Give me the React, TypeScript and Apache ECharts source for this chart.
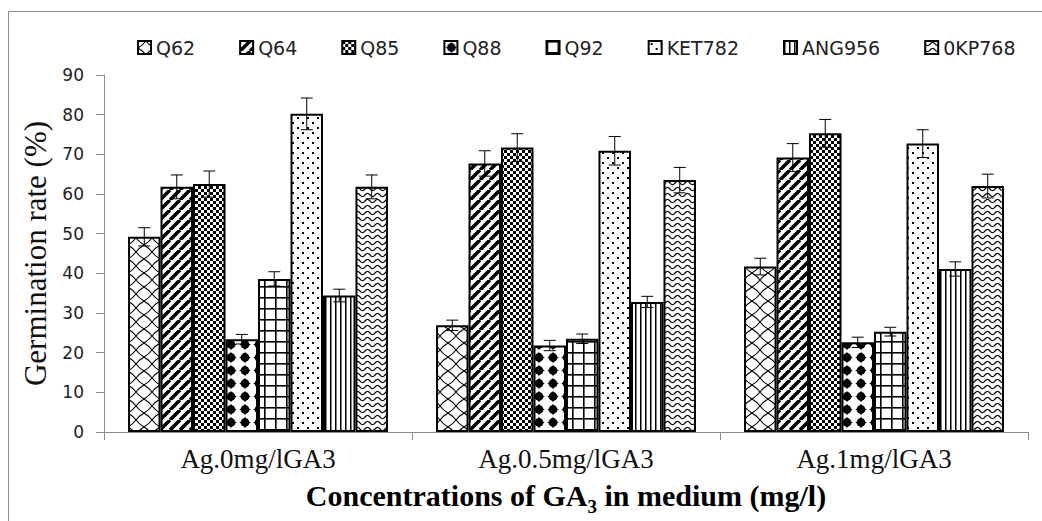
import React, { useEffect, useRef } from 'react';
import * as echarts from 'echarts';

const categories = ['Ag.0mg/lGA3', 'Ag.0.5mg/lGA3', 'Ag.1mg/lGA3'];
const seriesNames = ['Q62', 'Q64', 'Q85', 'Q88', 'Q92', 'KET782', 'ANG956', '0KP768'];

const q62 = [49.2, 26.9, 41.7];
const q64 = [61.8, 67.7, 69.2];
const q85 = [62.5, 71.7, 75.3];
const q88 = [23.4, 21.8, 22.6];
const q92 = [38.6, 23.5, 25.3];
const ket782 = [80.2, 70.9, 72.7];
const ang956 = [34.4, 32.8, 41.1];
const okp768 = [61.8, 63.5, 62.0];

const q62Err = [2.3, 1.3, 2.1];
const q64Err = [3.0, 3.2, 3.5];
const q85Err = [3.3, 3.5, 3.5];
const q88Err = [1.2, 1.3, 1.3];
const q92Err = [1.8, 1.2, 1.1];
const ket782Err = [4.0, 3.6, 3.5];
const ang956Err = [1.6, 1.4, 1.8];
const okp768Err = [3.0, 3.2, 3.0];

const yMin = 0;
const yMax = 90;
const yInterval = 10;

const values = [q62, q64, q85, q88, q92, ket782, ang956, okp768];
const errors = [q62Err, q64Err, q85Err, q88Err, q92Err, ket782Err, ang956Err, okp768Err];

const CAT_GAP = 0.156;

function makeTile(w: number, h: number, draw: (ctx: CanvasRenderingContext2D) => void) {
  const c = document.createElement('canvas');
  c.width = w;
  c.height = h;
  const ctx = c.getContext('2d') as CanvasRenderingContext2D;
  ctx.fillStyle = '#fff';
  ctx.fillRect(0, 0, w, h);
  ctx.strokeStyle = '#000';
  ctx.fillStyle = '#000';
  draw(ctx);
  return { image: c.toDataURL(), repeat: 'repeat', imageWidth: w, imageHeight: h };
}

function buildPatterns() {
  const p0 = makeTile(16, 14, (ctx) => {
    ctx.lineWidth = 1.1;
    ctx.beginPath();
    ctx.moveTo(8, 0);
    ctx.quadraticCurveTo(11.5, 4.5, 16, 7);
    ctx.moveTo(16, 7);
    ctx.quadraticCurveTo(11.5, 9.5, 8, 14);
    ctx.moveTo(8, 14);
    ctx.quadraticCurveTo(4.5, 9.5, 0, 7);
    ctx.moveTo(0, 7);
    ctx.quadraticCurveTo(4.5, 4.5, 8, 0);
    ctx.stroke();
  });
  const p1 = makeTile(10, 10, (ctx) => {
    ctx.lineWidth = 3.6;
    ctx.beginPath();
    for (let k = -1; k <= 1; k++) {
      ctx.moveTo(k * 10, 10);
      ctx.lineTo(k * 10 + 10, 0);
    }
    ctx.stroke();
  });
  const p2 = makeTile(6, 6, (ctx) => {
    ctx.fillRect(0, 0, 3, 3);
    ctx.fillRect(3, 3, 3, 3);
  });
  const p3 = makeTile(14, 13, (ctx) => {
    ctx.beginPath();
    ctx.arc(7, 6.5, 4.4, 0, Math.PI * 2);
    ctx.fill();
    ctx.beginPath();
    ctx.moveTo(7, 0.5);
    ctx.lineTo(9.5, 6.5);
    ctx.lineTo(7, 12.5);
    ctx.lineTo(4.5, 6.5);
    ctx.closePath();
    ctx.fill();
    ctx.beginPath();
    ctx.moveTo(1, 6.5);
    ctx.lineTo(7, 4.5);
    ctx.lineTo(13, 6.5);
    ctx.lineTo(7, 8.5);
    ctx.closePath();
    ctx.fill();
  });
  const p4 = makeTile(11, 11, (ctx) => {
    ctx.fillRect(0, 0, 11, 1.6);
    ctx.fillRect(0, 0, 1.6, 11);
  });
  const p5 = makeTile(10, 10, (ctx) => {
    ctx.fillRect(2, 2, 2, 2);
    ctx.fillRect(7, 7, 2, 2);
  });
  const p6 = makeTile(5, 4, (ctx) => {
    ctx.fillRect(0, 0, 1.5, 4);
  });
  const p7 = makeTile(10, 6, (ctx) => {
    ctx.lineWidth = 1.2;
    ctx.beginPath();
    for (let x = -1; x <= 11; x += 0.5) {
      const y = 3 + 1.6 * Math.sin((2 * Math.PI * x) / 10);
      if (x === -1) ctx.moveTo(x, y);
      else ctx.lineTo(x, y);
    }
    ctx.stroke();
  });
  return [p0, p1, p2, p3, p4, p5, p6, p7];
}

export default function App() {
  const ref = useRef<HTMLDivElement>(null);

  useEffect(() => {
    if (!ref.current) return;
    const chart = echarts.init(ref.current, null, { renderer: 'svg' });
    const patterns = buildPatterns();

    const barSeries = seriesNames.map((name, i) => ({
      type: 'bar',
      name,
      data: values[i],
      barGap: '0%',
      barCategoryGap: CAT_GAP * 100 + '%',
      itemStyle: { color: patterns[i], borderColor: '#000', borderWidth: 2 },
      emphasis: { disabled: true },
    }));

    const errSeries = seriesNames.map((name, i) => ({
      type: 'custom',
      name: 'err-' + name,
      silent: true,
      z: 10,
      data: categories.map((_, j) => [j, values[i][j], errors[i][j]]),
      encode: { x: 0, y: 1 },
      renderItem: (params: any, api: any) => {
        const j = api.value(0);
        const v = api.value(1);
        const e = api.value(2);
        const catW = api.size([1, 0])[0];
        const total = catW * (1 - CAT_GAP);
        const bw = total / seriesNames.length;
        const p = api.coord([j, v]);
        const cx = p[0] - total / 2 + bw * (i + 0.5);
        const top = api.coord([j, v + e])[1];
        const bot = api.coord([j, v - e])[1];
        const cap = 6;
        const st = { stroke: '#000', lineWidth: 1 };
        return {
          type: 'group',
          children: [
            { type: 'line', shape: { x1: cx, y1: top, x2: cx, y2: bot }, style: st },
            { type: 'line', shape: { x1: cx - cap, y1: top, x2: cx + cap, y2: top }, style: st },
            { type: 'line', shape: { x1: cx - cap, y1: bot, x2: cx + cap, y2: bot }, style: st },
          ],
        };
      },
    }));

    const axisGray = '#8c8c8c';

    chart.setOption({
      animation: false,
      graphic: [
        {
          type: 'rect',
          silent: true,
          z: -10,
          shape: { x: 8.5, y: 11.5, width: 1100, height: 600 },
          style: { fill: 'none', stroke: axisGray, lineWidth: 1 },
        },
      ],
      legend: {
        data: seriesNames,
        top: 33,
        left: 132,
        itemWidth: 13,
        itemHeight: 13,
        itemGap: 44,
        icon: 'rect',
        selectedMode: false,
        textStyle: { fontFamily: 'DejaVu Sans', fontSize: 19, color: '#222' },
      },
      grid: { left: 104, right: 14, top: 75, bottom: 88, containLabel: false },
      xAxis: {
        type: 'category',
        data: categories,
        axisLine: { lineStyle: { color: axisGray, width: 1 } },
        axisTick: { show: true, length: 8, lineStyle: { color: axisGray } },
        axisLabel: { fontFamily: 'Liberation Serif', fontSize: 27, color: '#111', margin: 13 },
        name: '{a|Concentrations of GA}{s|3}{a| in medium (mg/l)}',
        nameLocation: 'middle',
        nameGap: 48,
        nameTextStyle: {
          rich: {
            a: {
              fontFamily: 'Liberation Serif',
              fontWeight: 'bold',
              fontSize: 30,
              lineHeight: 36,
              color: '#000',
              verticalAlign: 'top',
            },
            s: {
              fontFamily: 'Liberation Serif',
              fontWeight: 'bold',
              fontSize: 19,
              color: '#000',
              verticalAlign: 'bottom',
            },
          },
        },
      },
      yAxis: {
        type: 'value',
        min: yMin,
        max: yMax,
        interval: yInterval,
        axisLine: { show: true, lineStyle: { color: axisGray, width: 1 } },
        axisTick: { show: true, length: 8, lineStyle: { color: axisGray } },
        splitLine: { show: false },
        axisLabel: { fontFamily: 'DejaVu Sans', fontSize: 17, color: '#222', margin: 20 },
        name: 'Germination rate (%)',
        nameLocation: 'middle',
        nameGap: 52,
        nameTextStyle: { fontFamily: 'Liberation Serif', fontSize: 31, color: '#111' },
      },
      series: [...barSeries, ...errSeries],
    });

    return () => chart.dispose();
  }, []);

  return (
    <div
      ref={ref}
      style={{ position: 'fixed', left: 0, top: 0, width: 1042, height: 521, background: '#fff' }}
    />
  );
}
